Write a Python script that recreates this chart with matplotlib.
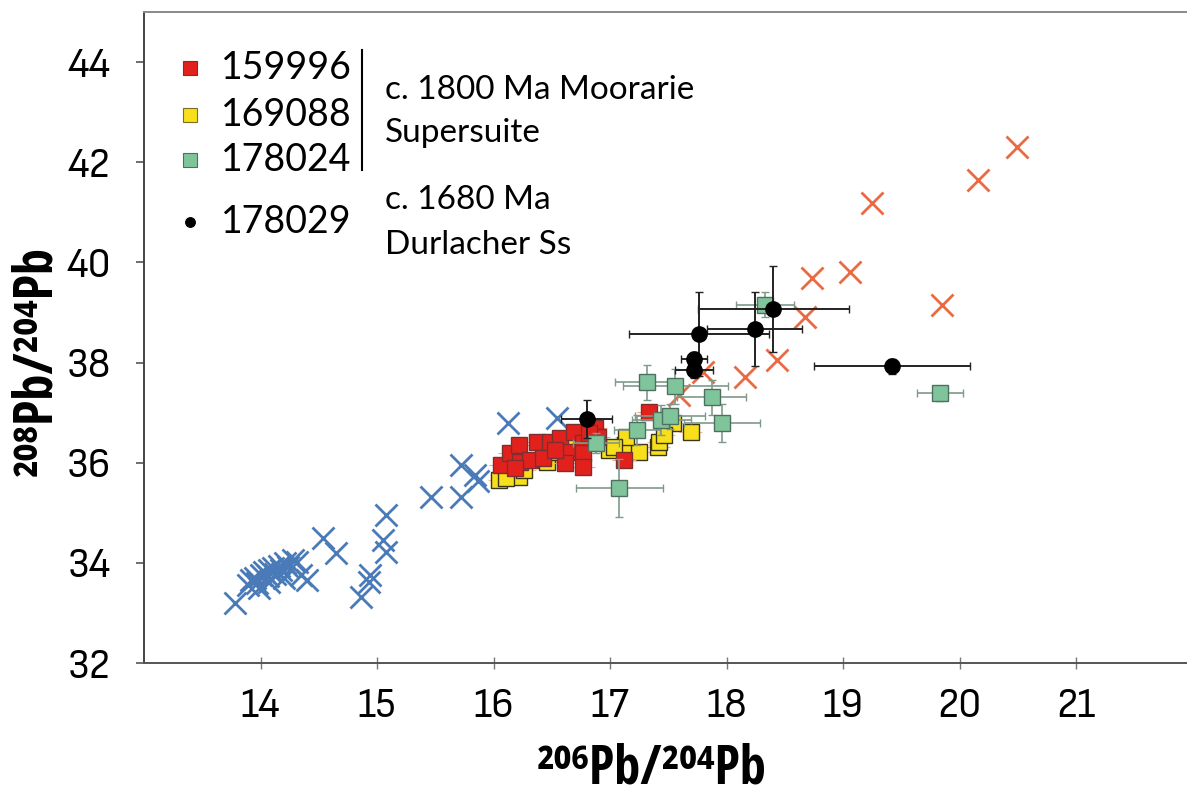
import matplotlib
matplotlib.use("Agg")
import matplotlib.pyplot as plt
from matplotlib import font_manager
from matplotlib.font_manager import FontProperties


def _weight(w):
    if isinstance(w, str):
        return {"normal": 400, "regular": 400, "book": 400, "medium": 500,
                "semibold": 600, "bold": 700, "heavy": 800, "black": 900}.get(w, 400)
    return int(w)


def condensed_font(bold):
    # look for an installed narrow / condensed sans face
    best = None
    for f in font_manager.fontManager.ttflist:
        if "Serif" in f.name or "Mono" in f.name or f.style != "normal":
            continue
        st = f.stretch
        narrow = ("Narrow" in f.name or "Condensed" in f.name
                  or st in ("condensed", "semi-condensed", "extra-condensed")
                  or (isinstance(st, int) and st < 500))
        if not narrow:
            continue
        w = _weight(f.weight)
        if (bold and w >= 700) or (not bold and 350 <= w <= 450):
            if best is None or "Sans" in f.name:
                best = f.fname
    return best


_reg = condensed_font(False)
_bold = condensed_font(True)
HUMAN = ["Lato", "DejaVu Sans"]


def tick_font(size):
    if _reg:
        return FontProperties(fname=_reg, size=size)
    return FontProperties(family=["Roboto", "DejaVu Sans"], size=size * 0.85)


def label_font(size):
    if _bold:
        return FontProperties(fname=_bold, size=size)
    return FontProperties(family=["Roboto", "DejaVu Sans"], weight="bold", size=size * 0.85)


# ---- data ----
blue_x = [13.78, 13.89, 13.92, 13.95, 13.97, 14.00, 14.03, 14.06, 14.07, 14.11, 14.12,
          14.16, 14.18, 14.21, 14.24, 14.28, 13.99, 14.07, 14.20, 14.31, 14.35, 14.40,
          14.54, 14.65, 15.08, 15.05, 15.08, 14.94, 14.93, 14.86, 15.46, 15.72, 15.72,
          15.84, 15.87, 16.12, 16.54]
blue_y = [33.20, 33.56, 33.66, 33.70, 33.60, 33.76, 33.82, 33.74, 33.86, 33.90, 33.78,
          33.94, 33.86, 34.00, 33.92, 34.06, 33.50, 33.62, 33.70, 34.02, 33.76, 33.66,
          34.49, 34.20, 34.95, 34.46, 34.22, 33.76, 33.62, 33.32, 35.31, 35.31, 35.95,
          35.75, 35.63, 36.79, 36.89]

orange_x = [20.49, 20.16, 19.25, 19.06, 18.73, 19.85, 18.67, 18.43, 18.16, 17.80, 17.59]
orange_y = [42.30, 41.64, 41.18, 39.80, 39.68, 39.15, 38.91, 38.05, 37.71, 37.81, 37.35]

red_x = [16.06, 16.14, 16.22, 16.23, 16.31, 16.37, 16.48, 16.57, 16.63, 16.61, 16.69,
         16.77, 16.77, 16.77, 16.87, 16.90, 17.12, 17.33, 16.18, 16.42, 16.53, 16.82]
red_y = [35.95, 36.19, 36.35, 36.01, 36.05, 36.41, 36.41, 36.49, 36.21, 35.99, 36.61,
         36.39, 36.19, 35.91, 36.69, 36.51, 36.05, 37.01, 35.89, 36.09, 36.25, 36.59]

yellow_x = [16.05, 16.14, 16.22, 16.44, 16.46, 16.53, 16.65, 16.99, 17.13, 17.25, 17.14,
            17.41, 17.42, 17.54, 17.46, 17.69, 16.11, 16.26, 17.03]
yellow_y = [35.65, 35.81, 35.71, 36.15, 36.01, 36.21, 36.41, 36.25, 36.35, 36.21, 36.51,
            36.31, 36.41, 36.79, 36.55, 36.61, 35.69, 35.85, 36.31]

green_x = [18.33, 17.32, 17.56, 17.87, 17.96, 17.23, 17.44, 17.51, 17.08, 19.83, 16.88]
green_y = [39.15, 37.61, 37.53, 37.31, 36.79, 36.65, 36.85, 36.93, 35.49, 37.39, 36.39]
green_xerr = [0.25, 0.28, 0.45, 0.30, 0.33, 0.20, 0.25, 0.30, 0.37, 0.20, 0.20]
green_yerr = [0.25, 0.35, 0.35, 0.35, 0.38, 0.30, 0.30, 0.25, 0.58, 0.15, 0.20]

black_x = [18.40, 18.24, 17.76, 17.72, 17.72, 19.42, 16.80]
black_y = [39.07, 38.67, 38.57, 38.07, 37.85, 37.93, 36.87]
black_xerr = [0.65, 0.41, 0.60, 0.11, 0.16, 0.67, 0.22]
black_yerr = [0.86, 0.74, 0.84, 0.15, 0.15, 0.15, 0.38]

legend_ids = ["159996", "169088", "178024", "178029"]

fig = plt.figure(figsize=(11.87, 8.02), dpi=100)
ax = fig.add_axes([0.1213, 0.1733, 0.8787, 0.8117])

ax.plot(blue_x, blue_y, "x", color="#4a7ab8", ms=16, mew=2.0, zorder=2)
ax.plot(orange_x, orange_y, "x", color="#ea6a43", ms=16, mew=2.0, zorder=2)

ax.errorbar(yellow_x, yellow_y, xerr=0.1, yerr=0.08, fmt="s", ms=11, mfc="#f7e01b",
            mec="#3a3418", mew=1.0, ecolor="#f4b89a", elinewidth=0.8, capsize=0, zorder=3)
ax.errorbar(red_x, red_y, xerr=0.1, yerr=0.1, fmt="s", ms=11, mfc="#e3211c",
            mec="#7a3030", mew=1.0, ecolor="#f4a582", elinewidth=0.8, capsize=0, zorder=4)
ax.errorbar(green_x, green_y, xerr=green_xerr, yerr=green_yerr, fmt="s", ms=12,
            mfc="#80c49b", mec="#4f7060", mew=1.0, ecolor="#7f9a8a", elinewidth=1.2,
            capsize=3, zorder=5)
ax.errorbar(black_x, black_y, xerr=black_xerr, yerr=black_yerr, fmt="o", ms=11,
            mfc="black", mec="black", ecolor="#222222", elinewidth=1.4, capsize=3,
            zorder=6)

ax.set_xlim(13, 21.95)
ax.set_ylim(32, 45)
ax.set_xticks(range(14, 22))
ax.set_yticks(range(32, 45, 2))

ax.spines["right"].set_visible(False)
ax.spines["top"].set_color("#8a8a8a")
ax.spines["left"].set_color("#444444")
ax.spines["bottom"].set_color("#555555")
for side in ("top", "left", "bottom"):
    ax.spines[side].set_linewidth(1.4)

ax.tick_params(axis="y", direction="out", length=6, width=1.2, color="#555555", pad=18)
ax.tick_params(axis="x", direction="inout", length=8, width=1.0, color="#777777", pad=14)
for lab in ax.get_xticklabels() + ax.get_yticklabels():
    lab.set_fontproperties(tick_font(30))

fig.text(0.549, 0.04, "\u00b2\u2070\u2076Pb/\u00b2\u2070\u2074Pb",
         fontproperties=label_font(38), ha="center", va="center")
fig.text(0.031, 0.55, "\u00b2\u2070\u2078Pb/\u00b2\u2070\u2074Pb",
         fontproperties=label_font(38), ha="center", va="center", rotation=90)

# legend drawn by hand
leg_styles = [("s", "#e3211c", "#7a3030", 10), ("s", "#f7e01b", "#7a7020", 10),
              ("s", "#80c49b", "#4f7060", 10), ("o", "black", "black", 7)]
leg_y = [0.914, 0.842, 0.773, 0.677]
for (mk, fc, ec, ms), yy, name in zip(leg_styles, leg_y, legend_ids):
    ax.plot([0.044], [yy], mk, ms=ms, mfc=fc, mec=ec, mew=0.8,
            transform=ax.transAxes, clip_on=False, zorder=7)
    ax.text(0.074, yy, name, transform=ax.transAxes, fontsize=27, family=HUMAN,
            va="center", ha="left")
ax.plot([0.209, 0.209], [0.757, 0.942], color="black", lw=1.5, transform=ax.transAxes)
side_text = [("c. 1800 Ma Moorarie", 0.880), ("Supersuite", 0.814),
             ("c. 1680 Ma", 0.711), ("Durlacher Ss", 0.642)]
for txt, yy in side_text:
    ax.text(0.231, yy, txt, transform=ax.transAxes, fontsize=24, family=HUMAN,
            va="center", ha="left")

fig.savefig("out.png", dpi=100, facecolor="white")
